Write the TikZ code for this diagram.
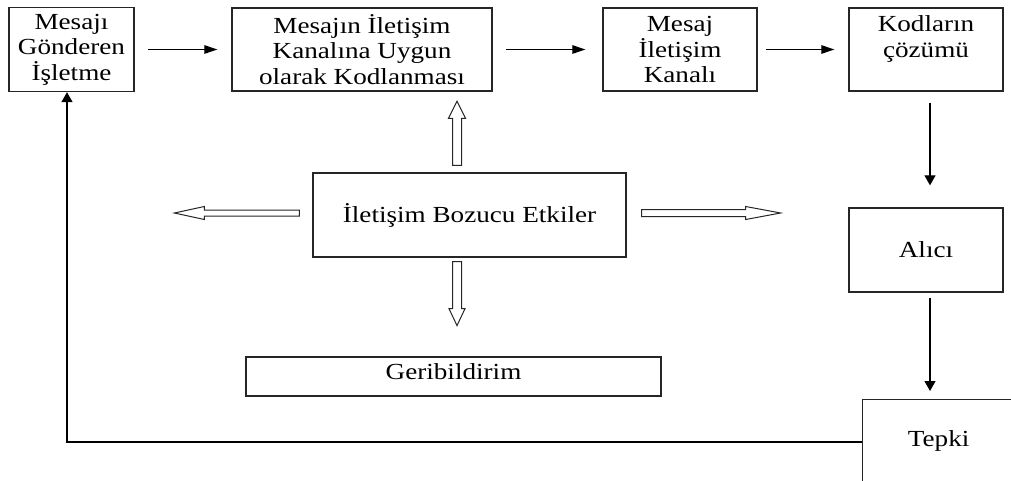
\documentclass[tikz,border=0pt]{standalone}
\usepackage{fontspec}
\setmainfont{Liberation Serif}[FakeStretch=1.18]
\usetikzlibrary{arrows.meta,calc}

% hollow block arrow: start point, direction, length, shaft width, head width, head length
\newcommand\hollowarrow[6]{%
  \draw[hollow, shift={(#1)}, rotate=#2]
    (0,-#4/2) -- (#3-#6,-#4/2) -- (#3-#6,-#5/2) -- (#3,0)
    -- (#3-#6,#5/2) -- (#3-#6,#4/2) -- (0,#4/2) -- cycle;}

\begin{document}
\begin{tikzpicture}[x=1pt,y=-1pt,
  box/.style={draw=black!85, line width=1.3pt, rectangle, inner sep=0pt,
    align=center, font=\fontsize{23}{25.5}\selectfont},
  conn/.style={line width=1.2pt, black},
  harrow/.style={conn, -{Triangle[length=13pt,width=8.5pt]}},
  varrow/.style={conn, -{Triangle[length=10pt,width=11pt]}},
  hollow/.style={draw=black!85, line width=1pt, fill=white, line join=miter}]

\useasboundingbox (0,0) rectangle (1011,481);
\clip (0,0) rectangle (1011,481);

% top row
\node[box, minimum width=125pt, minimum height=84pt] (gonderen) at (71.5,49.5)
  {Mesajı\\Gönderen\\İşletme};
\node[box, minimum width=260pt, minimum height=83pt] (kodlama) at (362,49.5)
  {Mesajın İletişim\\Kanalına Uygun\\olarak Kodlanması};
\node[box, minimum width=154pt, minimum height=83pt] (kanal) at (680,49.5)
  {Mesaj\\İletişim\\Kanalı};
\node[box, minimum width=154pt, minimum height=83pt] (cozum) at (926,49.5)
  {Kodların\\çözümü\\~};

% right column
\node[box, minimum width=154pt, minimum height=84pt] (alici) at (926,250) {Alıcı};
\node[box, anchor=north west, minimum width=152pt, text height=47pt, text depth=50pt]
  (tepki) at (862,399) {Tepki};

% middle
\node[box, minimum width=313pt, minimum height=84pt] (bozucu) at (469.5,215)
  {İletişim Bozucu Etkiler};
\node[box, minimum width=415pt, minimum height=39pt, text depth=9pt] (geri) at (453.5,376.5)
  {Geribildirim};

% flow connectors
\draw[harrow, shorten <=13pt, shorten >=14pt] (gonderen) -- (kodlama);
\draw[harrow, shorten <=13pt, shorten >=17pt] (kodlama) -- (kanal);
\draw[harrow, shorten <=8pt, shorten >=14pt] (kanal) -- (cozum);
\draw[varrow, shorten <=11pt, shorten >=22pt]
  ([xshift=4pt]cozum.south) -- ([xshift=4pt]alici.north);
\draw[varrow, shorten <=5pt, shorten >=8pt]
  ([xshift=4pt]alici.south) -- ([xshift=4pt]alici.south |- tepki.north);
\draw[varrow] ([yshift=-43pt]tepki.north west) -| ([xshift=-4.5pt]gonderen.south);

% disturbance arrows around the central box
\coordinate (hl) at ($(bozucu.west)+(-13,-2)$);
\coordinate (hr) at ($(bozucu.east)+(15,-2)$);
\coordinate (hu) at ($(bozucu.north)+(-12.5,-7)$);
\coordinate (hd) at ($(bozucu.south)+(-12.5,4)$);
\hollowarrow{hl}{180}{125}{6}{13}{30}
\hollowarrow{hr}{0}{139}{7}{13}{35}
\hollowarrow{hu}{90}{64}{9}{17}{17}
\hollowarrow{hd}{-90}{64}{9}{16}{17}
\end{tikzpicture}
\end{document}
